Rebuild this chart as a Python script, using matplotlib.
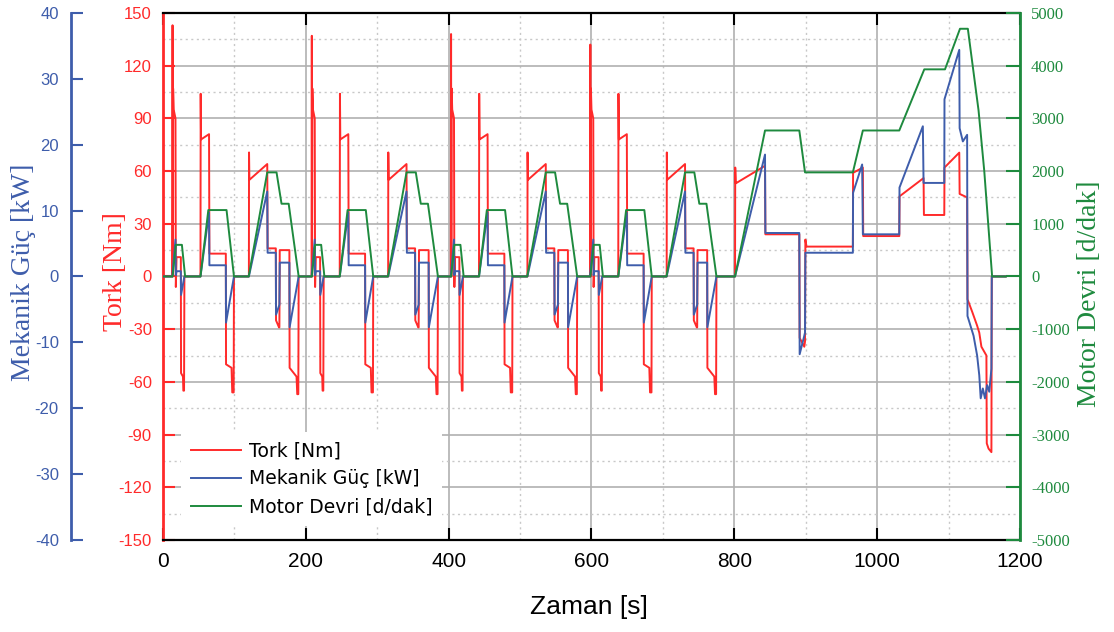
#!/usr/bin/env python3
# -*- coding: utf-8 -*-
"""
Tork / Mekanik Güç / Motor Devri - NEDC çevrimi (4 x ECE + EUDC)
"""

import numpy as np
import matplotlib
matplotlib.use("Agg")
import matplotlib.pyplot as plt
from matplotlib.ticker import MultipleLocator

plt.rcParams["axes.unicode_minus"] = False

# -------------------------------
# Renkler
# -------------------------------
RED = "#ff2a2a"
BLUE = "#3e5dab"
GREEN = "#1e8a3e"

# -------------------------------
# Veri (grafikten okunan kırılma noktaları)
# -------------------------------
# ECE şehir içi çevrim başlangıçları [s] ve her çevrimin ilk tork tepesi [Nm]
CYCLE_STARTS = [0, 195, 390, 585]
FIRST_PEAK = [143, 137, 138, 132]

# ECE çevrimi - tork [Nm] (göreli zaman)
ECE_T_TRQ = [0, 13, 13.4, 13.8, 14.2, 15, 17.5, 18, 19, 25, 25.3, 28, 28.5, 29.5, 30,
             52.5, 52.8, 53.3, 64.5, 65, 88, 88.3, 96, 97, 99, 99.4,
             120.3, 120.5, 121, 146, 146.5, 158, 158.3, 162.5, 163, 163.5, 177, 177.3,
             187, 188, 189.5, 190, 195]
ECE_TRQ = [0, 0, 143, 0, 107, 95, 90, -6, 11, 11, -55, -57, -65, -65, 0,
           0, 104, 78, 81, 13, 13, -50, -52, -66, -66, 0,
           0, 70.6, 55, 64, 16, 16, -25, -29, -29, 15, 15, -52,
           -57, -67, -67, 0, 0]

# ECE çevrimi - mekanik güç [kW]
ECE_T_PWR = [0, 13, 17.5, 18, 19, 25, 25.3, 30,
             52.5, 64.5, 65, 88, 88.3, 99.4,
             120.3, 146, 146.5, 158, 158.3, 163, 163.5, 177, 177.3, 190, 195]
ECE_PWR = [0, 0, 5.6, 0.2, 0.8, 0.8, -2.8, 0,
           0, 9.7, 1.7, 1.7, -7.0, 0,
           0, 12.9, 3.6, 3.6, -5.8, -4.3, 2.1, 2.1, -7.7, 0, 0]

# ECE çevrimi - motor devri [d/dak]
ECE_T_RPM = [0, 13.5, 18, 26.5, 31, 52.5, 63.5, 89, 99.4, 120, 146, 159, 166, 176, 190, 195]
ECE_RPM = [0, 0, 600, 600, 0, 0, 1260, 1260, 0, 0, 1975, 1975, 1380, 1380, 0, 0]

# EUDC şehir dışı çevrim (mutlak zaman)
EUDC_T_TRQ = [780, 801, 801.3, 802, 843, 843.5, 891, 891.5, 898, 899, 899.5, 901, 966,
              966.3, 980, 980.5, 1031, 1031.3, 1065, 1065.5, 1094, 1094.3, 1115, 1115.5,
              1126, 1126.5, 1133, 1140, 1143, 1146, 1153, 1153.5, 1156, 1160, 1160.5, 1180]
EUDC_TRQ = [0, 0, 62, 53, 63, 24, 24, -35, -40, -37, 21, 17, 17,
            59, 62, 23, 23, 45.6, 56, 35, 35, 62, 70.5, 47,
            45, -13, -20, -28, -32, -40, -45, -95, -98, -100, 0, 0]

EUDC_T_PWR = [780, 801, 843, 843.5, 891, 891.5, 898, 899, 899.5, 966, 966.3, 979, 980,
              1031, 1031.3, 1064, 1065, 1094, 1094.3, 1115, 1115.5, 1120, 1126,
              1126.5, 1135, 1140, 1143, 1145, 1148, 1151, 1154, 1157, 1160, 1160.5, 1180]
EUDC_PWR = [0, 0, 18.5, 6.6, 6.6, -11.8, -9, -8.5, 3.6, 3.6, 12.7, 17, 6.4,
            6.4, 13.5, 22.8, 14.2, 14.2, 26.9, 34.4, 22.5, 20.5, 21.5,
            -6, -9, -12, -15, -18.5, -17, -18.5, -16.5, -17.5, -14, 0, 0]

EUDC_T_RPM = [780, 801, 843, 891, 899, 966, 980, 1031, 1066, 1095, 1116, 1127, 1142, 1150, 1161, 1180]
EUDC_RPM = [0, 0, 2770, 2770, 1975, 1975, 2770, 2770, 3930, 3930, 4700, 4700, 3150, 2000, 0, 0]


# -------------------------------
# Yardımcı: ECE şablonunu çevrimlere yerleştir
# -------------------------------
def build(t_tpl, v_tpl, t_eudc, v_eudc, peaks=None, peak_idx=None):
    ts, vs = [], []
    for k, t0 in enumerate(CYCLE_STARTS):
        v = list(v_tpl)
        if peaks is not None:
            v[peak_idx] = peaks[k]
        ts += [t0 + t for t in t_tpl]
        vs += v
    ts += list(t_eudc)
    vs += list(v_eudc)
    return np.array(ts), np.array(vs)


t_trq, trq = build(ECE_T_TRQ, ECE_TRQ, EUDC_T_TRQ, EUDC_TRQ, FIRST_PEAK, 2)
t_pwr, pwr = build(ECE_T_PWR, ECE_PWR, EUDC_T_PWR, EUDC_PWR)
t_rpm, rpm = build(ECE_T_RPM, ECE_RPM, EUDC_T_RPM, EUDC_RPM)

# -------------------------------
# Grafik
# -------------------------------
SANS = ["Liberation Sans", "DejaVu Sans"]
SERIF = ["Liberation Serif", "DejaVu Serif"]

fig = plt.figure(figsize=(11.14, 6.32), dpi=100)
ax = fig.add_axes([0.1463, 0.1456, 0.7693, 0.8339])
ax_p = ax.twinx()
ax_r = ax.twinx()

# Tork ekseni (kırmızı, iç sol)
ax.set_xlim(0, 1200)
ax.set_ylim(-150, 150)
ax.xaxis.set_major_locator(MultipleLocator(200))
ax.xaxis.set_minor_locator(MultipleLocator(100))
ax.yaxis.set_major_locator(MultipleLocator(30))
ax.yaxis.set_minor_locator(MultipleLocator(15))
ax.grid(which="major", color="#b0b0b0", lw=1.2, ls="-")
ax.grid(which="minor", color="#c8c8c8", lw=1.0, ls=(0, (1.5, 2.5)))
ax.set_axisbelow(True)
ax.tick_params(axis="x", which="major", direction="in", top=True, bottom=True,
               length=8.5, width=1.5, color="black", labelsize=15, pad=9)
ax.tick_params(axis="x", which="minor", length=0)
ax.tick_params(axis="y", which="major", direction="in", length=8.5, width=1.5,
               color=RED, labelcolor=RED, labelsize=12, pad=8)
ax.tick_params(axis="y", which="minor", length=0)
for lab in ax.get_xticklabels() + ax.get_yticklabels():
    lab.set_family(SANS)
ax.spines["left"].set_color(RED)
ax.spines["left"].set_linewidth(2)
ax.spines["top"].set_linewidth(1.6)
ax.spines["bottom"].set_linewidth(1.6)
ax.spines["right"].set_visible(False)

# Mekanik güç ekseni (mavi, dış sol)
ax_p.set_ylim(-40, 40)
ax_p.yaxis.set_major_locator(MultipleLocator(10))
ax_p.yaxis.tick_left()
ax_p.spines["left"].set_position(("outward", 66))
ax_p.spines["left"].set_visible(True)
ax_p.spines["left"].set_color(BLUE)
ax_p.spines["left"].set_linewidth(2)
for s in ["right", "top", "bottom"]:
    ax_p.spines[s].set_visible(False)
ax_p.tick_params(axis="y", direction="in", length=8.5, width=1.5, color=BLUE,
                 labelcolor=BLUE, labelsize=12, pad=9, left=True, right=False,
                 labelleft=True, labelright=False)
for lab in ax_p.get_yticklabels():
    lab.set_family(SANS)

# Motor devri ekseni (yeşil, sağ)
ax_r.set_ylim(-5000, 5000)
ax_r.yaxis.set_major_locator(MultipleLocator(1000))
ax_r.spines["right"].set_color(GREEN)
ax_r.spines["right"].set_linewidth(2)
for s in ["left", "top", "bottom"]:
    ax_r.spines[s].set_visible(False)
ax_r.tick_params(axis="y", direction="in", length=10, width=1.5, color=GREEN,
                 labelcolor=GREEN, labelsize=12, pad=8)
for lab in ax_r.get_yticklabels():
    lab.set_family(SERIF)

# Eğriler
l1, = ax.plot(t_trq, trq, color=RED, lw=1.4)
l2, = ax_p.plot(t_pwr, pwr, color=BLUE, lw=1.4)
l3, = ax_r.plot(t_rpm, rpm, color=GREEN, lw=1.4)

leg = ax_r.legend([l1, l2, l3], ["Tork [Nm]", "Mekanik Güç [kW]", "Motor Devri [d/dak]"],
                  loc="lower left", bbox_to_anchor=(0.0105, 0.009), frameon=True,
                  facecolor="white", edgecolor="none", framealpha=1, fancybox=False,
                  prop={"family": "DejaVu Sans", "size": 13.5}, handlelength=2.7,
                  handletextpad=0.4, labelspacing=0.49, borderpad=0.5)

# Eksen başlıkları
fig.text(23 / 1114, 1 - 272 / 632, "Mekanik Güç [kW]", rotation=90, ha="center", va="center",
         color=BLUE, fontsize=20, family=SERIF)
fig.text(116 / 1114, 1 - 272 / 632, "Tork [Nm]", rotation=90, ha="center", va="center",
         color=RED, fontsize=20, family=SERIF)
fig.text(1090 / 1114, 1 - 294 / 632, "Motor Devri [d/dak]", rotation=90, ha="center",
         va="center", color=GREEN, fontsize=20, family=SERIF)
fig.text(589 / 1114, 1 - 607 / 632, "Zaman [s]", ha="center", va="center",
         color="black", fontsize=19, family=SANS)

fig.savefig("out.png", dpi=100)
